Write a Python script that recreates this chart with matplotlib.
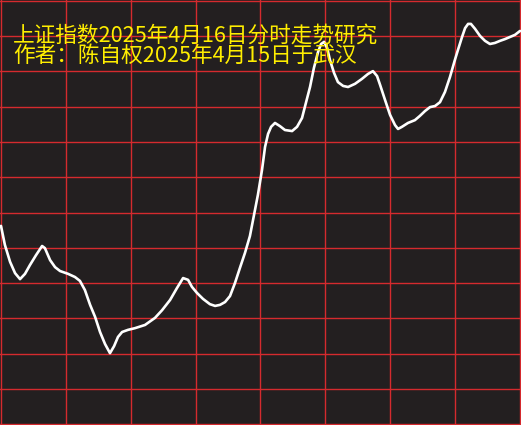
#!/usr/bin/env python3

import matplotlib
matplotlib.use('Agg')
import matplotlib.pyplot as plt

plt.rcParams['font.family'] = ['Noto Sans CJK SC', 'DejaVu Sans']

# ======================================================================
# Intraday trace, minutes since open vs. level in grid rows (no axis labels).

title_lines = [
    '上证指数2025年4月16日分时走势研究',
    '作者：陈自权2025年4月15日于武汉',
]

minutes = [
    0, 1.8, 4.2, 6.5, 8.8, 11.1, 13.4, 16.2, 19.0, 20.3,
    22.7, 25.0, 27.3, 31.0, 34.2, 36.5, 38.8, 41.2, 43.5, 45.8,
    48.1, 50.4, 52.3, 54.1, 56.0, 58.7, 62.0, 66.6, 71.2, 74.5,
    78.2, 81.4, 84.2, 86.5, 88.3, 90.6, 93.4, 96.6, 99.0, 101.3,
    103.6, 105.9, 108.2, 110.5, 112.8, 115.1, 117.0, 118.8, 120.7, 122.1,
    123.5, 124.9, 126.7, 129.0, 131.3, 134.6, 136.9, 139.2, 141.0, 142.9,
    144.7, 146.6, 148.0, 149.4, 150.8, 152.1, 154.0, 155.8, 158.2, 160.5,
    163.7, 166.9, 169.7, 172.0, 173.9, 175.3, 177.6, 179.9, 182.2, 183.6,
    185.4, 188.2, 191.4, 193.7, 196.1, 198.4, 200.7, 203.0, 205.3, 207.6,
    209.9, 211.3, 213.2, 214.6, 216.0, 217.3, 219.2, 221.5, 223.8, 226.1,
    228.4, 230.8, 233.1, 235.4, 237.7, 240.0,
]

levels = [
    5.62, 5.08, 4.60, 4.28, 4.11, 4.26, 4.51, 4.79, 5.05, 4.99,
    4.65, 4.45, 4.34, 4.26, 4.17, 4.06, 3.80, 3.38, 3.04, 2.61,
    2.27, 2.01, 2.21, 2.47, 2.61, 2.67, 2.72, 2.81, 3.01, 3.23,
    3.52, 3.86, 4.14, 4.09, 3.89, 3.72, 3.55, 3.40, 3.35, 3.38,
    3.46, 3.63, 4.00, 4.43, 4.85, 5.33, 5.93, 6.50, 7.21, 7.86,
    8.23, 8.43, 8.54, 8.45, 8.34, 8.31, 8.43, 8.68, 9.11, 9.56,
    10.10, 10.55, 10.78, 10.84, 10.67, 10.33, 9.96, 9.70, 9.59, 9.56,
    9.65, 9.79, 9.93, 10.01, 9.87, 9.62, 9.19, 8.77, 8.48, 8.37,
    8.43, 8.54, 8.62, 8.74, 8.88, 8.99, 9.02, 9.13, 9.42, 9.84,
    10.33, 10.61, 10.98, 11.23, 11.35, 11.35, 11.21, 11.01, 10.87, 10.78,
    10.81, 10.87, 10.92, 10.98, 11.04, 11.15,
]

x_grid = [0, 30, 60, 90, 120, 150, 180, 210, 240]
y_grid = [0, 1, 2, 3, 4, 5, 6, 7, 8, 9, 10, 11, 12]

# ======================================================================

def main():
    bg = '#231f20'
    red = '#d52a2e'

    fig = plt.figure(figsize=(5.21, 4.25), dpi=100, facecolor=bg)
    ax = fig.add_axes([0, 0, 1, 1], facecolor=bg)

    for x in x_grid:
        ax.axvline(x, color=red, lw=1.0, zorder=1, clip_on=False)
    for y in y_grid:
        ax.axhline(y, color=red, lw=1.0, zorder=1, clip_on=False)

    ax.plot(minutes, levels, color='white', lw=1.9,
            solid_joinstyle='round', solid_capstyle='round', zorder=3)

    ax.set_xlim(-0.46, 240.46)
    ax.set_ylim(-0.028, 12.028)
    ax.axis('off')

    # Two title lines, top left, yellow.
    fig.text(13 / 521, 1 - 36 / 425, title_lines[0], color='#ffee00',
             fontsize=15.6, ha='left', va='center', zorder=4)
    fig.text(13 / 521, 1 - 56 / 425, title_lines[1], color='#ffee00',
             fontsize=15.6, ha='left', va='center', zorder=4)

    fig.savefig('out.png', dpi=100, facecolor=bg)
    plt.close(fig)


if __name__ == '__main__':
    main()
